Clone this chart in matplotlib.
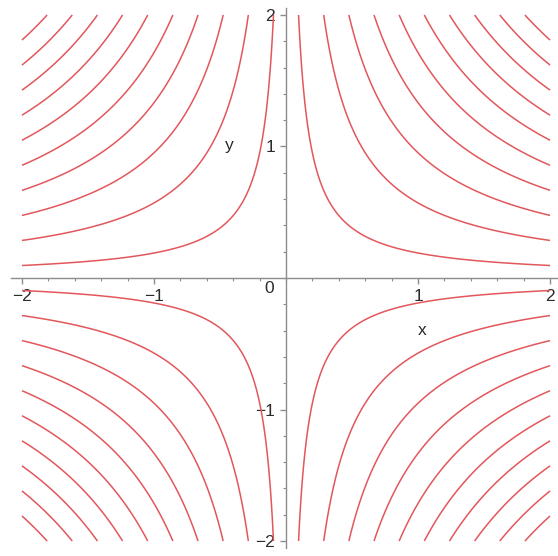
import matplotlib.pyplot as plt
import numpy as np

plt.rcParams['font.family'] = ['Liberation Sans', 'DejaVu Sans']

# contour levels of f(x, y) = x*y
levels = [-3.619, -3.238, -2.857, -2.476, -2.095, -1.714, -1.333, -0.952, -0.571, -0.190,
          0.190, 0.571, 0.952, 1.333, 1.714, 2.095, 2.476, 2.857, 3.238, 3.619]
x_range = [-2, 2]
y_range = [-2, 2]
major_ticks = [-2, -1, 1, 2]
tick_labels = ['\u22122', '\u22121', '1', '2']

line_color = '#e2575c'
axis_color = '#8c8c8c'
text_color = '#2b2b2b'

x = np.linspace(x_range[0], x_range[1], 600)
y = np.linspace(y_range[0], y_range[1], 600)
X, Y = np.meshgrid(x, y)
Z = X * Y

fig = plt.figure(figsize=(5.58, 5.56), dpi=100)
# axes box in pixels: 132 px per unit, origin near (286, 277)
ax = fig.add_axes([11.4 / 558, 8.4 / 556, 546.6 / 558, 539.2 / 556])
ax.contour(X, Y, Z, levels=levels, colors=line_color, linewidths=1.1,
           linestyles='solid')

ax.set_xlim(-2.08, 2.06)
ax.set_ylim(-2.05, 2.05)

for side in ['top', 'right']:
    ax.spines[side].set_visible(False)
for side in ['left', 'bottom']:
    ax.spines[side].set_position('zero')
    ax.spines[side].set_color(axis_color)
    ax.spines[side].set_linewidth(1.0)

ax.set_xticks(major_ticks)
ax.set_xticklabels(tick_labels)
ax.set_yticks(major_ticks)
ax.set_yticklabels(tick_labels)
ax.set_xticks(np.arange(-2, 2.01, 0.2), minor=True)
ax.set_yticks(np.arange(-2, 2.01, 0.2), minor=True)
ax.tick_params(which='major', direction='out', length=4, width=1,
               color=axis_color, labelsize=12.5, labelcolor=text_color, pad=4)
ax.tick_params(which='minor', direction='out', length=2.5, width=0.8,
               color=axis_color)

ax.text(-0.13, -0.08, '0', ha='center', va='center', fontsize=12.5, color=text_color)
ax.text(1.03, -0.40, 'x', ha='center', va='center', fontsize=12.5, color=text_color)
ax.text(-0.43, 1.01, 'y', ha='center', va='center', fontsize=12.5, color=text_color)

fig.savefig('out.png', dpi=100)
